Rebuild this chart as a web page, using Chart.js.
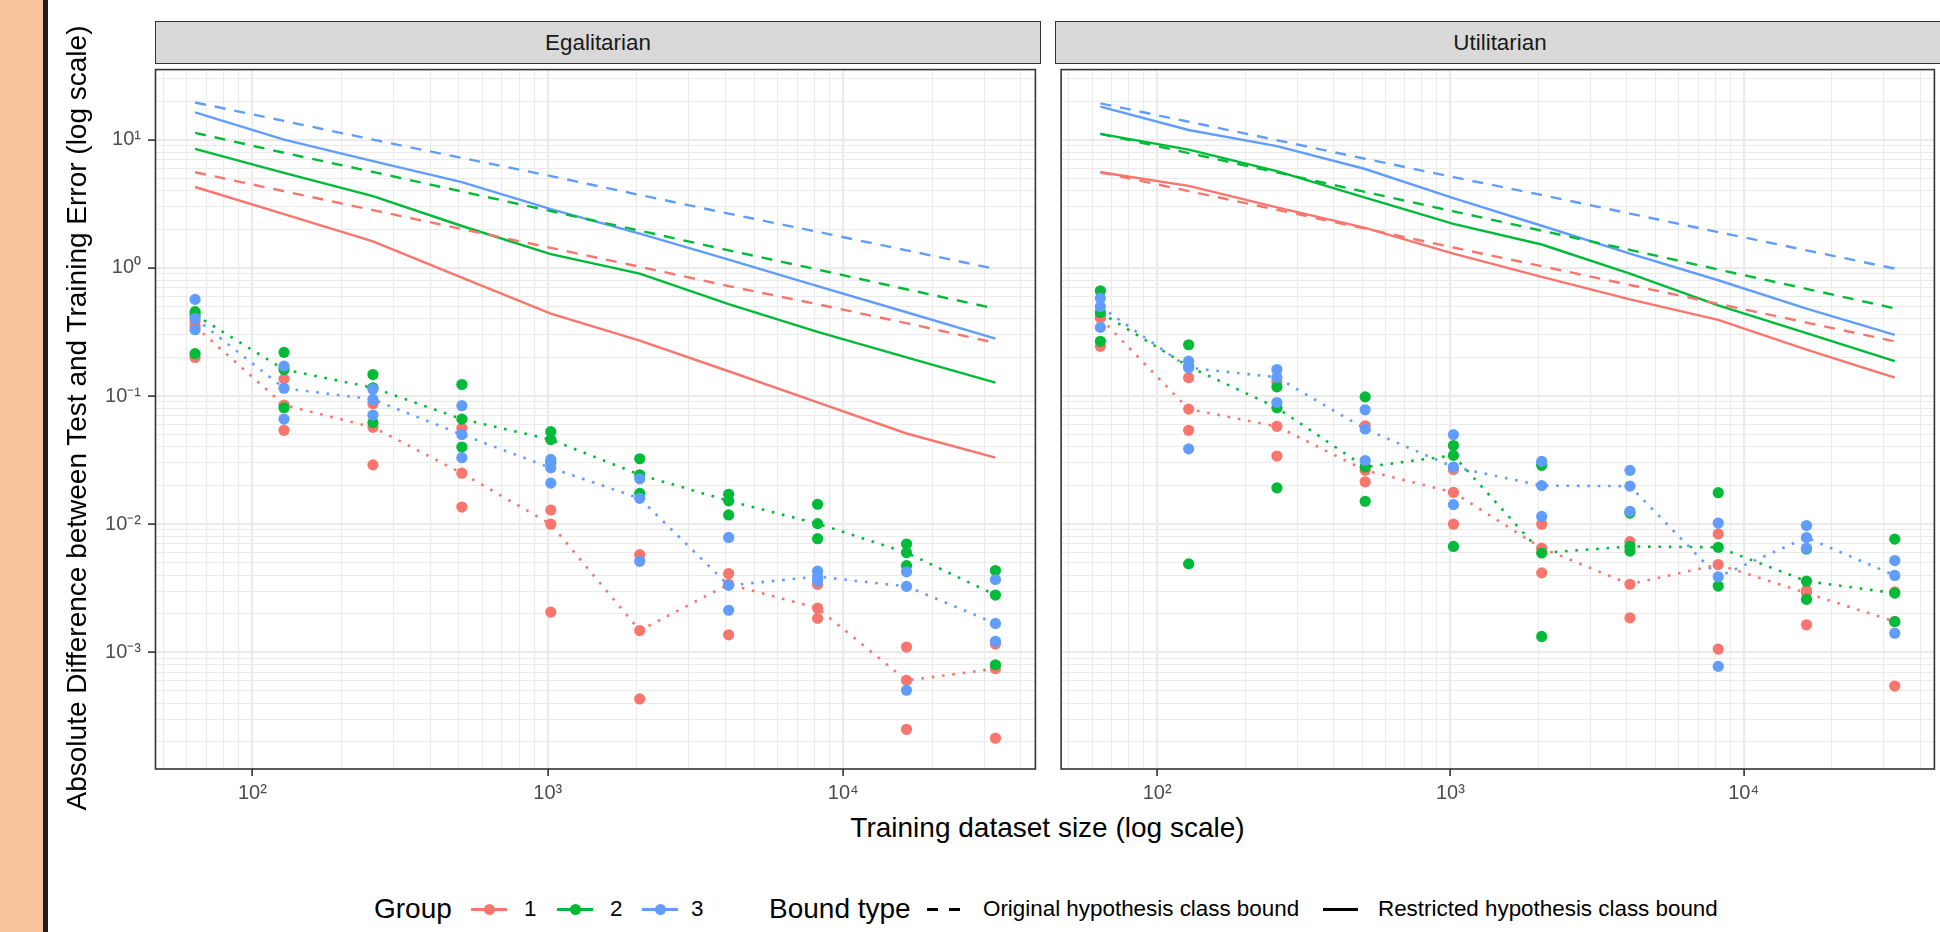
<!DOCTYPE html>
<html>
<head>
<meta charset="utf-8">
<script src="https://cdn.jsdelivr.net/npm/chart.js@4.4.1/dist/chart.umd.min.js"></script>
<style>
html, body { margin: 0; padding: 0; background: #fff; }
body { width: 1940px; height: 932px; position: relative; overflow: hidden; font-family: "Liberation Sans", Arial, sans-serif; }
.abs { position: absolute; }
#side { left: 0; top: 0; width: 43px; height: 932px; background: #F8C39B; }
#sideLine { left: 43px; top: 0; width: 5px; height: 932px; background: #231F20; }
.strip { position: absolute; top: 21px; height: 43px; background: #D9D9D9; border: 1.5px solid #333; box-sizing: border-box;
         font-size: 22.4px; color: #1A1A1A; display: flex; align-items: center; justify-content: center; }
#ytitle { left: 77px; top: 418px; width: 900px; height: 28px; line-height: 28px; margin-left: -450px; margin-top: -14px;
          transform: rotate(-90deg); text-align: center; font-size: 28px; color: #000; white-space: nowrap; }
#xtitle { left: 155px; width: 1785px; top: 812px; height: 32px; line-height: 32px; text-align: center; font-size: 28px; color: #000; }
.lt { position: absolute; top: 893px; height: 32px; line-height: 32px; font-size: 28px; color: #000; white-space: nowrap; }
.ls { position: absolute; top: 895px; height: 28px; line-height: 28px; font-size: 22.4px; color: #000; white-space: nowrap; }
.key { position: absolute; top: 907.5px; height: 3px; }
.dot { position: absolute; top: 903.5px; width: 11px; height: 11px; border-radius: 50%; }
canvas { position: absolute; }
</style>
</head>
<body>
<div id="side" class="abs"></div>
<div id="sideLine" class="abs"></div>

<div class="strip" style="left:155px;width:886px;">Egalitarian</div>
<div class="strip" style="left:1055px;width:890px;">Utilitarian</div>

<canvas id="egal" width="1041" height="745" style="left:0;top:64px;width:1041px;height:745px;"></canvas>
<canvas id="util" width="885" height="745" style="left:1055px;top:64px;width:885px;height:745px;"></canvas>

<div id="ytitle" class="abs">Absolute Difference between Test and Training Error (log scale)</div>
<div id="xtitle" class="abs">Training dataset size (log scale)</div>

<!-- legend -->
<div class="lt" style="left:374px;">Group</div>
<div class="key" style="left:471px;width:36px;background:#F8766D;"></div>
<div class="dot" style="left:483.5px;background:#F8766D;"></div>
<div class="ls" style="left:524px;">1</div>
<div class="key" style="left:557px;width:36px;background:#00BA38;"></div>
<div class="dot" style="left:569.5px;background:#00BA38;"></div>
<div class="ls" style="left:610px;">2</div>
<div class="key" style="left:642px;width:36px;background:#619CFF;"></div>
<div class="dot" style="left:654.5px;background:#619CFF;"></div>
<div class="ls" style="left:691px;">3</div>
<div class="lt" style="left:769px;">Bound type</div>
<div class="key" style="left:927px;width:11px;background:#000;"></div>
<div class="key" style="left:949px;width:11px;background:#000;"></div>
<div class="ls" style="left:983px;">Original hypothesis class bound</div>
<div class="key" style="left:1323px;width:35px;background:#000;"></div>
<div class="ls" style="left:1378px;">Restricted hypothesis class bound</div>

<script>
// Tamaños de entrenamiento (eje x)
const sizes = [64, 128, 256, 512, 1024, 2048, 4096, 8192, 16384, 32768];

// Etiquetas de los ejes
const xTickValues = [100, 1000, 10000];
const xTickLabels = ['10²', '10³', '10⁴'];
const yTickValues = [10, 1, 0.1, 0.01, 0.001];
const yTickLabels = ['10¹', '10⁰', '10⁻¹', '10⁻²', '10⁻³'];

const groups = ['1', '2', '3'];
const groupColors = ['#F8766D', '#00BA38', '#619CFF'];

// Egalitarian - cotas (original = discontinua, restringida = continua)
const egalOrig1 = [5.57, 3.96, 2.82, 2.01, 1.43, 1.02, 0.72, 0.52, 0.37, 0.26];
const egalOrig2 = [11.3, 7.9, 5.6, 3.94, 2.77, 1.95, 1.37, 0.97, 0.68, 0.48];
const egalOrig3 = [19.5, 14.0, 10.0, 7.2, 5.2, 3.7, 2.65, 1.91, 1.37, 0.98];
const egalRestr1 = [4.27, 2.62, 1.61, 0.84, 0.44, 0.27, 0.156, 0.089, 0.051, 0.033];
const egalRestr2 = [8.47, 5.5, 3.63, 2.12, 1.28, 0.90, 0.52, 0.316, 0.20, 0.127];
const egalRestr3 = [16.3, 10.0, 6.8, 4.67, 2.87, 1.85, 1.16, 0.72, 0.45, 0.28];

// Egalitarian - puntos (3 repeticiones por tamaño) y mediana (línea punteada)
const egalPts1 = [[0.38, 0.35, 0.20], [0.136, 0.085, 0.054], [0.087, 0.057, 0.029], [0.056, 0.025, 0.0136], [0.0129, 0.0100, 0.00206],
                  [0.00578, 0.00148, 0.000433], [0.00412, 0.0034, 0.00137], [0.00339, 0.00221, 0.00184], [0.0011, 0.000604, 0.000251], [0.00116, 0.000745, 0.000214]];
const egalPts2 = [[0.455, 0.43, 0.214], [0.219, 0.161, 0.081], [0.147, 0.116, 0.062], [0.123, 0.066, 0.040], [0.0527, 0.0457, 0.0305],
                  [0.0324, 0.0243, 0.0174], [0.0171, 0.0152, 0.0118], [0.0143, 0.0101, 0.0077], [0.0070, 0.0060, 0.00475], [0.00435, 0.0028, 0.0008]];
const egalPts3 = [[0.567, 0.404, 0.329], [0.171, 0.115, 0.066], [0.113, 0.094, 0.071], [0.084, 0.050, 0.033], [0.032, 0.0275, 0.0209],
                  [0.0226, 0.0159, 0.00513], [0.00788, 0.00333, 0.00213], [0.0043, 0.0039, 0.0036], [0.00425, 0.00327, 0.000506], [0.0037, 0.00168, 0.00122]];
const egalMed1 = [0.35, 0.085, 0.057, 0.025, 0.0100, 0.00148, 0.0034, 0.00221, 0.000604, 0.000745];
const egalMed2 = [0.43, 0.161, 0.116, 0.066, 0.0457, 0.0243, 0.0152, 0.0101, 0.0060, 0.0028];
const egalMed3 = [0.404, 0.115, 0.094, 0.050, 0.0275, 0.0159, 0.00333, 0.0039, 0.00327, 0.00168];

// Utilitarian - cotas
const utilOrig1 = [5.57, 3.97, 2.84, 2.02, 1.44, 1.03, 0.735, 0.524, 0.374, 0.267];
const utilOrig2 = [11.1, 7.86, 5.55, 3.91, 2.76, 1.95, 1.38, 0.97, 0.686, 0.483];
const utilOrig3 = [19.2, 13.8, 9.9, 7.1, 5.1, 3.7, 2.65, 1.90, 1.37, 0.986];
const utilRestr1 = [5.57, 4.36, 2.96, 2.05, 1.29, 0.85, 0.567, 0.393, 0.23, 0.139];
const utilRestr2 = [11.1, 8.37, 5.69, 3.53, 2.2, 1.52, 0.90, 0.51, 0.31, 0.187];
const utilRestr3 = [18.1, 11.9, 8.9, 5.9, 3.5, 2.13, 1.29, 0.80, 0.48, 0.30];

// Utilitarian - puntos y mediana
const utilPts1 = [[0.42, 0.405, 0.244], [0.139, 0.079, 0.054], [0.13, 0.058, 0.034], [0.0586, 0.0263, 0.0214], [0.0267, 0.0177, 0.0100],
                  [0.0100, 0.0065, 0.00417], [0.0073, 0.0034, 0.00186], [0.0084, 0.00484, 0.00106], [0.00305, 0.0029, 0.00164], [0.00296, 0.00174, 0.000546]];
const utilPts2 = [[0.662, 0.448, 0.267], [0.251, 0.17, 0.0049], [0.118, 0.081, 0.0192], [0.0984, 0.0279, 0.0151], [0.0411, 0.0344, 0.0067],
                  [0.0288, 0.00596, 0.00133], [0.0122, 0.0067, 0.00617], [0.0176, 0.0066, 0.00329], [0.0064, 0.00359, 0.00259], [0.00764, 0.0029, 0.00174]];
const utilPts3 = [[0.578, 0.498, 0.343], [0.187, 0.166, 0.0387], [0.161, 0.14, 0.089], [0.078, 0.0553, 0.0314], [0.05, 0.0279, 0.0142],
                  [0.0309, 0.02, 0.0115], [0.0263, 0.0198, 0.0126], [0.0102, 0.00389, 0.000777], [0.00975, 0.00787, 0.0065], [0.0052, 0.00398, 0.00141]];
const utilMed1 = [0.405, 0.079, 0.058, 0.0263, 0.0177, 0.0065, 0.0034, 0.00484, 0.0029, 0.00174];
const utilMed2 = [0.448, 0.17, 0.081, 0.0279, 0.0344, 0.00596, 0.0067, 0.0066, 0.00359, 0.0029];
const utilMed3 = [0.498, 0.166, 0.14, 0.0553, 0.0279, 0.02, 0.0198, 0.00389, 0.00787, 0.00398];

// Límites de los ejes (rango de datos + 5% en escala log)
const X_MIN = 46.83, X_MAX = 44740;
const Y_MIN = 1.23e-4, Y_MAX = 35.2;

function isDecade(v) {
    const l = Math.log10(v);
    return Math.abs(l - Math.round(l)) < 1e-9;
}

// Marcas en 1..9 x 10^k para la rejilla menor
function logGridTicks(min, max) {
    const out = [];
    for (let e = Math.floor(Math.log10(min)); e <= Math.ceil(Math.log10(max)); e++) {
        for (let m = 1; m <= 9; m++) {
            const v = m * Math.pow(10, e);
            if (v >= min && v <= max) out.push({ value: v });
        }
    }
    return out;
}

function labelFor(values, labels, v) {
    for (let i = 0; i < values.length; i++) {
        if (Math.abs(Math.log10(values[i]) - Math.log10(v)) < 1e-9) return labels[i];
    }
    return '';
}

function gridOpts(showTicks) {
    return {
        color: '#EBEBEB',
        lineWidth: ctx => (ctx.tick && isDecade(ctx.tick.value)) ? 2.2 : 1.1,
        drawTicks: showTicks,
        tickLength: 7,
        tickWidth: 1.6,
        tickColor: ctx => (ctx.tick && isDecade(ctx.tick.value)) ? '#333333' : 'rgba(0,0,0,0)'
    };
}

const framePlugin = {
    id: 'frame',
    afterDatasetsDraw(chart) {
        const a = chart.chartArea;
        const ctx = chart.ctx;
        ctx.save();
        ctx.strokeStyle = '#333333';
        ctx.lineWidth = 1.6;
        ctx.strokeRect(a.left + 0.5, a.top, a.right - a.left - 0.5, a.bottom - a.top);
        ctx.restore();
    }
};

function buildDatasets(orig, restr, pts, med) {
    const sets = [];
    for (let g = 0; g < 3; g++) {
        sets.push({
            label: 'Original ' + groups[g],
            data: sizes.map((x, i) => ({ x: x, y: orig[g][i] })),
            showLine: true, borderColor: groupColors[g], borderWidth: 2.4, borderDash: [11, 9],
            pointRadius: 0, order: 10 + g
        });
        sets.push({
            label: 'Restricted ' + groups[g],
            data: sizes.map((x, i) => ({ x: x, y: restr[g][i] })),
            showLine: true, borderColor: groupColors[g], borderWidth: 2.4,
            pointRadius: 0, order: 20 + g
        });
        sets.push({
            label: 'Mediana ' + groups[g],
            data: sizes.map((x, i) => ({ x: x, y: med[g][i] })),
            showLine: true, borderColor: groupColors[g], borderWidth: 2.6, borderDash: [2.6, 7.8],
            pointRadius: 0, order: 5 + g
        });
        sets.push({
            label: 'Grupo ' + groups[g],
            data: sizes.flatMap((x, i) => pts[g][i].map(y => ({ x: x, y: y }))),
            showLine: false, backgroundColor: groupColors[g], borderWidth: 0,
            pointRadius: 5.6, order: 2 - g
        });
    }
    return sets;
}

function createPanel(canvasId, datasets, showYLabels) {
    const ctx = document.getElementById(canvasId).getContext('2d');
    return new Chart(ctx, {
        type: 'scatter',
        data: { datasets: datasets },
        options: {
            responsive: false,
            animation: false,
            events: [],
            layout: { padding: 0 },
            plugins: { legend: { display: false }, tooltip: { enabled: false } },
            scales: {
                x: {
                    type: 'logarithmic',
                    min: X_MIN, max: X_MAX,
                    border: { display: false },
                    grid: gridOpts(true),
                    afterBuildTicks: s => { s.ticks = logGridTicks(X_MIN, X_MAX); },
                    ticks: {
                        autoSkip: false, maxRotation: 0, padding: 5,
                        color: '#4D4D4D',
                        font: { family: '"Liberation Sans", Arial, sans-serif', size: 20 },
                        callback: v => labelFor(xTickValues, xTickLabels, v)
                    },
                    afterFit: s => { s.height = 40; s.paddingLeft = 0; s.paddingRight = 0; }
                },
                y: {
                    type: 'logarithmic',
                    min: Y_MIN, max: Y_MAX,
                    border: { display: false },
                    grid: gridOpts(showYLabels),
                    afterBuildTicks: s => { s.ticks = logGridTicks(Y_MIN, Y_MAX); },
                    ticks: {
                        display: showYLabels,
                        autoSkip: false, padding: 7,
                        color: '#4D4D4D',
                        font: { family: '"Liberation Sans", Arial, sans-serif', size: 20 },
                        callback: v => labelFor(yTickValues, yTickLabels, v)
                    },
                    afterFit: s => { s.width = showYLabels ? 155 : 0; s.paddingTop = 0; s.paddingBottom = 0; }
                }
            }
        },
        plugins: [framePlugin]
    });
}

createPanel('egal', buildDatasets(
    [egalOrig1, egalOrig2, egalOrig3],
    [egalRestr1, egalRestr2, egalRestr3],
    [egalPts1, egalPts2, egalPts3],
    [egalMed1, egalMed2, egalMed3]), true);

createPanel('util', buildDatasets(
    [utilOrig1, utilOrig2, utilOrig3],
    [utilRestr1, utilRestr2, utilRestr3],
    [utilPts1, utilPts2, utilPts3],
    [utilMed1, utilMed2, utilMed3]), false);
</script>
</body>
</html>
